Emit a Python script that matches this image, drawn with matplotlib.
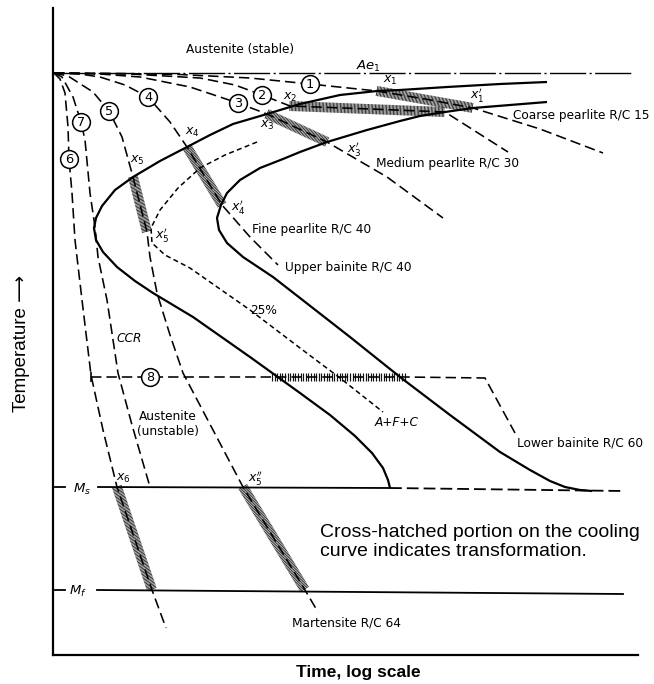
import numpy as np
import matplotlib
matplotlib.use("Agg")
import matplotlib.pyplot as plt
from matplotlib.collections import LineCollection

plt.rcParams['lines.scale_dashes'] = False
plt.rcParams['mathtext.fontset'] = 'dejavusans'
plt.rcParams['font.family'] = ['DejaVu Sans']

# ---- diagram coordinates: x = log time position, y = temperature position (axis inverted) ----
# transformation start curve (outer C curve)
start_t = [547, 500, 447, 400, 377, 340, 300, 290, 267, 233, 210, 187, 160, 133, 115, 102, 96, 94, 96,
           103, 117, 135, 153, 193, 250, 300, 330, 355, 372, 383, 388, 390]
start_T = [82, 84, 87, 90, 91, 95, 104, 107, 114, 124, 135, 147, 161, 177, 190, 206, 218, 228, 240,
           252, 267, 281, 293, 317, 357, 393, 415, 436, 453, 468, 480, 488]
# transformation finish curve (inner C curve)
finish_t = [547, 510, 473, 445, 420, 400, 367, 327, 300, 283, 260, 240, 227, 221, 217, 219, 227, 243,
            273, 300, 350, 400, 450, 500, 530, 550, 565, 580, 592]
finish_T = [102, 105, 108, 112, 116, 121, 130, 142, 152, 159, 168, 180, 193, 205, 218, 230, 243, 257,
            277, 298, 337, 377, 415, 452, 470, 481, 487, 490, 491]
# 25 % transformation curve
pct25_t = [257, 225, 200, 178, 160, 151, 152, 165, 190, 250, 300, 340, 383]
pct25_T = [142, 155, 168, 188, 210, 228, 243, 255, 268, 310, 348, 378, 412]

# cooling curves 1..8
cool1_t = [54, 120, 180, 250, 310, 377, 425, 473, 540, 603]
cool1_T = [73, 73.5, 74.5, 78, 84, 91, 99, 108, 129, 153]
cool2_t = [54, 130, 200, 235, 262, 290, 370, 445, 508]
cool2_T = [73, 74, 78, 85, 95, 106, 109, 112, 152]
cool3_t = [54, 100, 140, 190, 238, 267, 327, 387, 443]
cool3_T = [73, 74, 77, 87, 103, 114, 142, 177, 218]
cool4_t = [54, 80, 100, 125, 148, 170, 187, 222, 250, 278]
cool4_T = [73, 74, 77, 85, 97, 122, 147, 205, 237, 265]
cool5_t = [54, 68, 93, 109, 122, 133, 147, 150, 157, 170, 183, 213, 243, 305, 318]
cool5_T = [73, 76, 92, 111, 137, 177, 232, 257, 293, 335, 373, 430, 487, 590, 612]
cool6_t = [54, 60, 65, 68, 69, 72, 75, 82, 91, 103, 117, 152, 166]
cool6_T = [73, 79, 93, 127, 159, 193, 240, 300, 375, 430, 487, 590, 628]
cool7_t = [54, 62, 73, 81, 85, 90, 95, 98, 107, 118, 132, 150]
cool7_T = [73, 77, 97, 122, 140, 193, 227, 257, 300, 373, 425, 487]
cool8_t = [91, 272, 405, 485, 515]
cool8_T = [377, 377, 377, 378, 433]

# transformation (cross-hatched) stretches on the cooling curves: (t0, T0, t1, T1)
hatch_bands = [
    (377, 91, 473, 108),    # curve 1: x1 -> x1'
    (290, 106, 445, 112),   # curve 2
    (267, 114, 327, 142),   # curve 3: x3 -> x3'
    (187, 147, 222, 205),   # curve 4: x4 -> x4'
    (133, 177, 147, 232),   # curve 5: x5 -> x5'
    (243, 487, 305, 590),   # curve 5: x5'' -> Mf
    (117, 487, 152, 590),   # curve 6: x6 -> Mf
]
hatch_isothermal = (272, 377, 405, 377)  # curve 8

# circled curve numbers
circle_nums = ["1", "2", "3", "4", "5", "6", "7", "8"]
circle_t = [310, 262, 238, 148, 109, 69, 81, 150]
circle_T = [84, 95, 103, 97, 111, 159, 122, 377]

# critical temperatures
ae1_T = 73
ms_T = 487
mf_T = 590

# point labels
pt_labels = [r"$x_1$", r"$x_1^{\prime}$", r"$x_2$", r"$x_3$", r"$x_3^{\prime}$", r"$x_4$",
             r"$x_4^{\prime}$", r"$x_5$", r"$x_5^{\prime}$", r"$x_5^{\prime\prime}$", r"$x_6$"]
pt_t = [390, 477, 290, 267, 354, 192, 238, 137, 162, 255, 123]
pt_T = [80, 95, 97, 125, 149, 132, 207, 160, 235, 478, 478]

# product labels
prod_labels = ["Coarse pearlite R/C 15", "Medium pearlite R/C 30", "Fine pearlite R/C 40",
               "Upper bainite R/C 40", "Lower bainite R/C 60", "Martensite R/C 64"]
prod_t = [513, 376, 252, 285, 517, 292]
prod_T = [116, 163, 229, 267, 443, 623]

fig = plt.figure(figsize=(6.54, 6.84), dpi=100)
ax = fig.add_axes([53 / 654, 1 - 655 / 684, 585 / 654, 647 / 684])
ax.set_xlim(53, 638)
ax.set_ylim(655, 8)
ax.set_xticks([])
ax.set_yticks([])
for s in ("top", "right"):
    ax.spines[s].set_visible(False)
for s in ("left", "bottom"):
    ax.spines[s].set_linewidth(1.6)

LONG = (0, (7.5, 3.6))
SHORT = (0, (3.6, 2.4))

# critical temperature lines
ax.plot([53, 633], [ae1_T, ae1_T], color="black", lw=1.0, ls=(0, (26, 2.5, 1.5, 2.5)), zorder=3)
ax.plot([98, 390], [ms_T, ms_T + 1], color="black", lw=1.3, zorder=3)
ax.plot([390, 623], [ms_T + 1, ms_T + 4], color="black", lw=1.3, ls=(0, (8.5, 3.6)), zorder=3)
ax.plot([97, 623], [mf_T, mf_T + 4], color="black", lw=1.3, zorder=3)
for lev in (ms_T, mf_T):
    ax.plot([55, 65], [lev, lev], color="black", lw=1.3)

# hatching along transformation stretches
def hatch(t0, T0, t1, T1, step, half, lw, color):
    p0 = np.array([t0, T0], float)
    p1 = np.array([t1, T1], float)
    d = p1 - p0
    L = np.hypot(*d)
    u = d / L
    n = np.array([-u[1], u[0]])
    s = np.arange(0, L + 1e-9, step)
    c = p0 + s[:, None] * u
    segs = np.stack([c - half * n, c + half * n], axis=1)
    ax.add_collection(LineCollection(segs, colors=color, linewidths=lw, zorder=2))

for band in hatch_bands:
    hatch(*band, step=1.4, half=5.0, lw=0.65, color="#2a2a2a")
hatch(*hatch_isothermal, step=2.6, half=4.4, lw=0.85, color="#111111")

# C curves
ax.plot(start_t, start_T, color="black", lw=1.6, zorder=4, solid_capstyle="butt")
ax.plot(finish_t, finish_T, color="black", lw=1.6, zorder=4, solid_capstyle="butt")
ax.plot(pct25_t, pct25_T, color="black", lw=1.1, ls=SHORT, zorder=4)

# cooling curves
for ct, cT in [(cool1_t, cool1_T), (cool2_t, cool2_T), (cool3_t, cool3_T), (cool4_t, cool4_T),
               (cool5_t, cool5_T), (cool6_t, cool6_T), (cool7_t, cool7_T), (cool8_t, cool8_T)]:
    ax.plot(ct, cT, color="black", lw=1.15, ls=LONG, zorder=4)
ax.plot([cool8_t[0]], [cool8_T[0]], marker="|", ms=7, mew=1.2, color="black", zorder=4)

# circled numbers
ax.plot(circle_t, circle_T, ls="none", marker="o", ms=12.8, mfc="white", mec="black", mew=1.1, zorder=6)
for lab, ct, cT in zip(circle_nums, circle_t, circle_T):
    ax.text(ct, cT + 0.5, lab, fontsize=9.3, ha="center", va="center", zorder=7)

# point labels
for lab, ct, cT in zip(pt_labels, pt_t, pt_T):
    ax.text(ct, cT, lab, fontsize=9, ha="center", va="center", zorder=7)

# product labels
for lab, ct, cT in zip(prod_labels, prod_t, prod_T):
    ax.text(ct, cT, lab, fontsize=8.7, ha="left", va="center", zorder=7, clip_on=False)

ax.text(240, 49, "Austenite (stable)", fontsize=8.7, ha="center", va="center")
ax.text(168, 417, "Austenite", fontsize=8.7, ha="center", va="center")
ax.text(168, 432, "(unstable)", fontsize=8.7, ha="center", va="center")
ax.text(264, 310, "25%", fontsize=8.7, ha="center", va="center")
ax.text(129, 338, "CCR", fontsize=8.7, style="italic", ha="center", va="center")
ax.text(397, 423, "A+F+C", fontsize=8.7, style="italic", ha="center", va="center")
ax.text(368, 66, r"$Ae_1$", fontsize=9.5, ha="center", va="center")
ax.text(82, 489, r"$M_s$", fontsize=9.5, ha="center", va="center")
ax.text(78, 591, r"$M_f$", fontsize=9.5, ha="center", va="center")

ax.text(320, 542, "Cross-hatched portion on the cooling\ncurve indicates transformation.",
        fontsize=14, family=["Liberation Sans", "DejaVu Sans"], ha="left", va="center",
        linespacing=1.08)

fig.text(358 / 654, 1 - 672 / 684, "Time, log scale", fontsize=12.5, weight="bold",
         family=["Liberation Sans", "DejaVu Sans"], ha="center", va="center")
fig.text(22 / 654, 1 - 343 / 684, "Temperature \u27f6", fontsize=13.5, rotation=90,
         family=["Liberation Sans", "DejaVu Sans"], ha="center", va="center")

fig.savefig("out.png", dpi=100)
